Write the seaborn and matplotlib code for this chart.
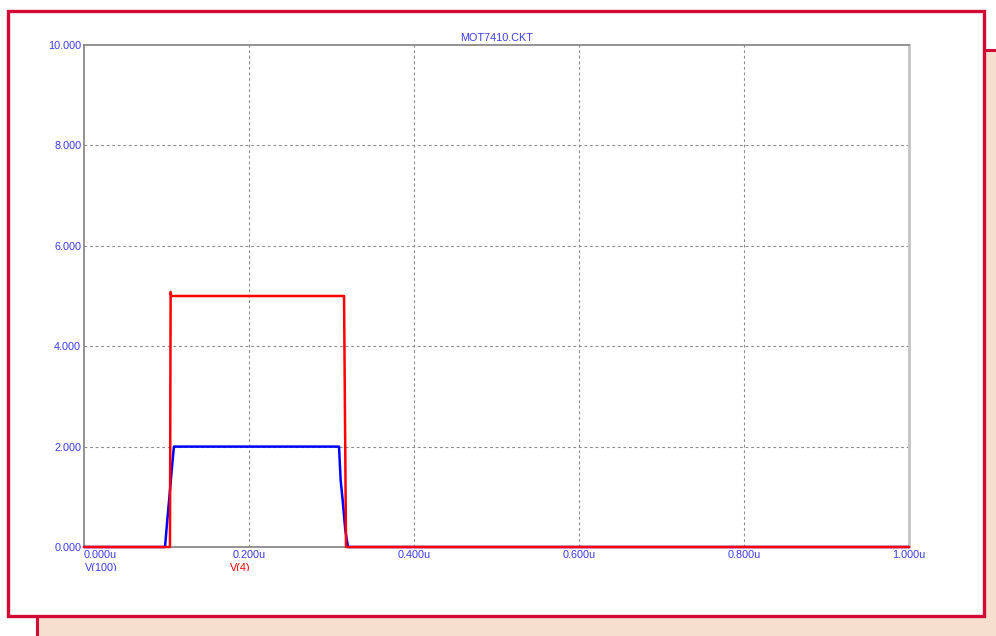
import matplotlib
matplotlib.use("Agg")
import matplotlib.pyplot as plt
from matplotlib.patches import Rectangle
from matplotlib.transforms import Bbox, TransformedBbox
import pandas as pd
import seaborn as sns

# Transient simulation traces (time in microseconds, volts)
t_v100 = [0.000, 0.0982, 0.1010, 0.1034, 0.1067, 0.1090, 0.3091, 0.3111, 0.3135, 0.3167, 0.3200, 1.000]
v100 = [0.00, 0.00, 0.54, 0.98, 1.60, 2.00, 2.00, 1.33, 0.94, 0.34, 0.00, 0.00]

t_v4 = [0.000, 0.1042, 0.1050, 0.1058, 0.3152, 0.3176, 1.000]
v4 = [0.00, 0.00, 5.08, 5.00, 5.00, 0.00, 0.00]

signal_names = ["V(100)", "V(4)"]
signal_colors = ["#0000ff", "#ff0000"]
label_colors = ["#3c3cff", "#ff0000"]

x_ticks = [0.0, 0.2, 0.4, 0.6, 0.8, 1.0]
x_tick_labels = ["0.000u", "0.200u", "0.400u", "0.600u", "0.800u", "1.000u"]
y_ticks = [0, 2, 4, 6, 8, 10]
y_tick_labels = ["0.000", "2.000", "4.000", "6.000", "8.000", "10.000"]
title = "MOT7410.CKT"

df = pd.concat([
    pd.DataFrame({"t": t_v100, "v": v100, "signal": signal_names[0]}),
    pd.DataFrame({"t": t_v4, "v": v4, "signal": signal_names[1]}),
], ignore_index=True)

sns.set_style("white")
plt.rcParams["font.family"] = ["Liberation Sans", "DejaVu Sans"]

W, H = 996, 636
fig = plt.figure(figsize=(W / 100, H / 100), dpi=100)
fig.patch.set_facecolor("white")

crimson = "#d20a36"
text_blue = "#3c3cff"
fs = 7.8

def px_rect(x0, y0, x1, y1, **kw):
    return Rectangle((x0 / W, 1 - y1 / H), (x1 - x0) / W, (y1 - y0) / H,
                     transform=fig.transFigure, **kw)

# Back window and front window frames
fig.patches.append(px_rect(37, 50, 1010, 650, facecolor="#f7dfd0",
                           edgecolor=crimson, linewidth=2.2, zorder=0))
fig.patches.append(px_rect(8, 11, 984, 616, facecolor="white",
                           edgecolor=crimson, linewidth=2.4, zorder=1))

ax_l, ax_r, ax_t, ax_b = 84, 909, 45, 547
ax = fig.add_axes([ax_l / W, 1 - ax_b / H, (ax_r - ax_l) / W, (ax_b - ax_t) / H])
ax.set_zorder(2)
ax.patch.set_alpha(0)

palette = dict(zip(signal_names, signal_colors))
sns.lineplot(data=df, x="t", y="v", hue="signal", palette=palette,
             sort=False, estimator=None, legend=False, linewidth=1.8,
             ax=ax, zorder=3, clip_on=False)

ax.set_xlim(0, 1)
ax.set_ylim(0, 10)
ax.set_xlabel("")
ax.set_ylabel("")

ax.set_xticks(x_ticks)
ax.set_xticklabels(x_tick_labels)
ax.set_yticks(y_ticks)
ax.set_yticklabels(y_tick_labels)
ax.tick_params(axis="both", length=0, labelsize=fs, labelcolor=text_blue, pad=2)
ax.get_xticklabels()[0].set_horizontalalignment("left")

ax.grid(True, color="#8c8c8c", linestyle=(0, (2.5, 2.5)), linewidth=0.8)
for gl in (ax.xaxis.get_gridlines()[0], ax.xaxis.get_gridlines()[-1],
           ax.yaxis.get_gridlines()[0], ax.yaxis.get_gridlines()[-1]):
    gl.set_visible(False)

for side in ["top", "left", "bottom"]:
    ax.spines[side].set_color("#808080")
    ax.spines[side].set_linewidth(1.2)
ax.spines["right"].set_color("#c4c4c4")
ax.spines["right"].set_linewidth(2.0)

ax.set_title(title, fontsize=fs, color=text_blue, pad=3)

# Trace names below the time axis, cut off at the window's lower edge
clip = TransformedBbox(Bbox.from_extents(0, 65 / H, 1, 1), fig.transFigure)
for name, color, xpix in zip(signal_names, label_colors, [85, 230]):
    txt = fig.text(xpix / W, 1 - 563 / H, name, color=color,
                   fontsize=fs, ha="left", va="top", zorder=4)
    txt.set_clip_box(clip)
    txt.set_clip_on(True)

fig.savefig("out.png", dpi=100)
